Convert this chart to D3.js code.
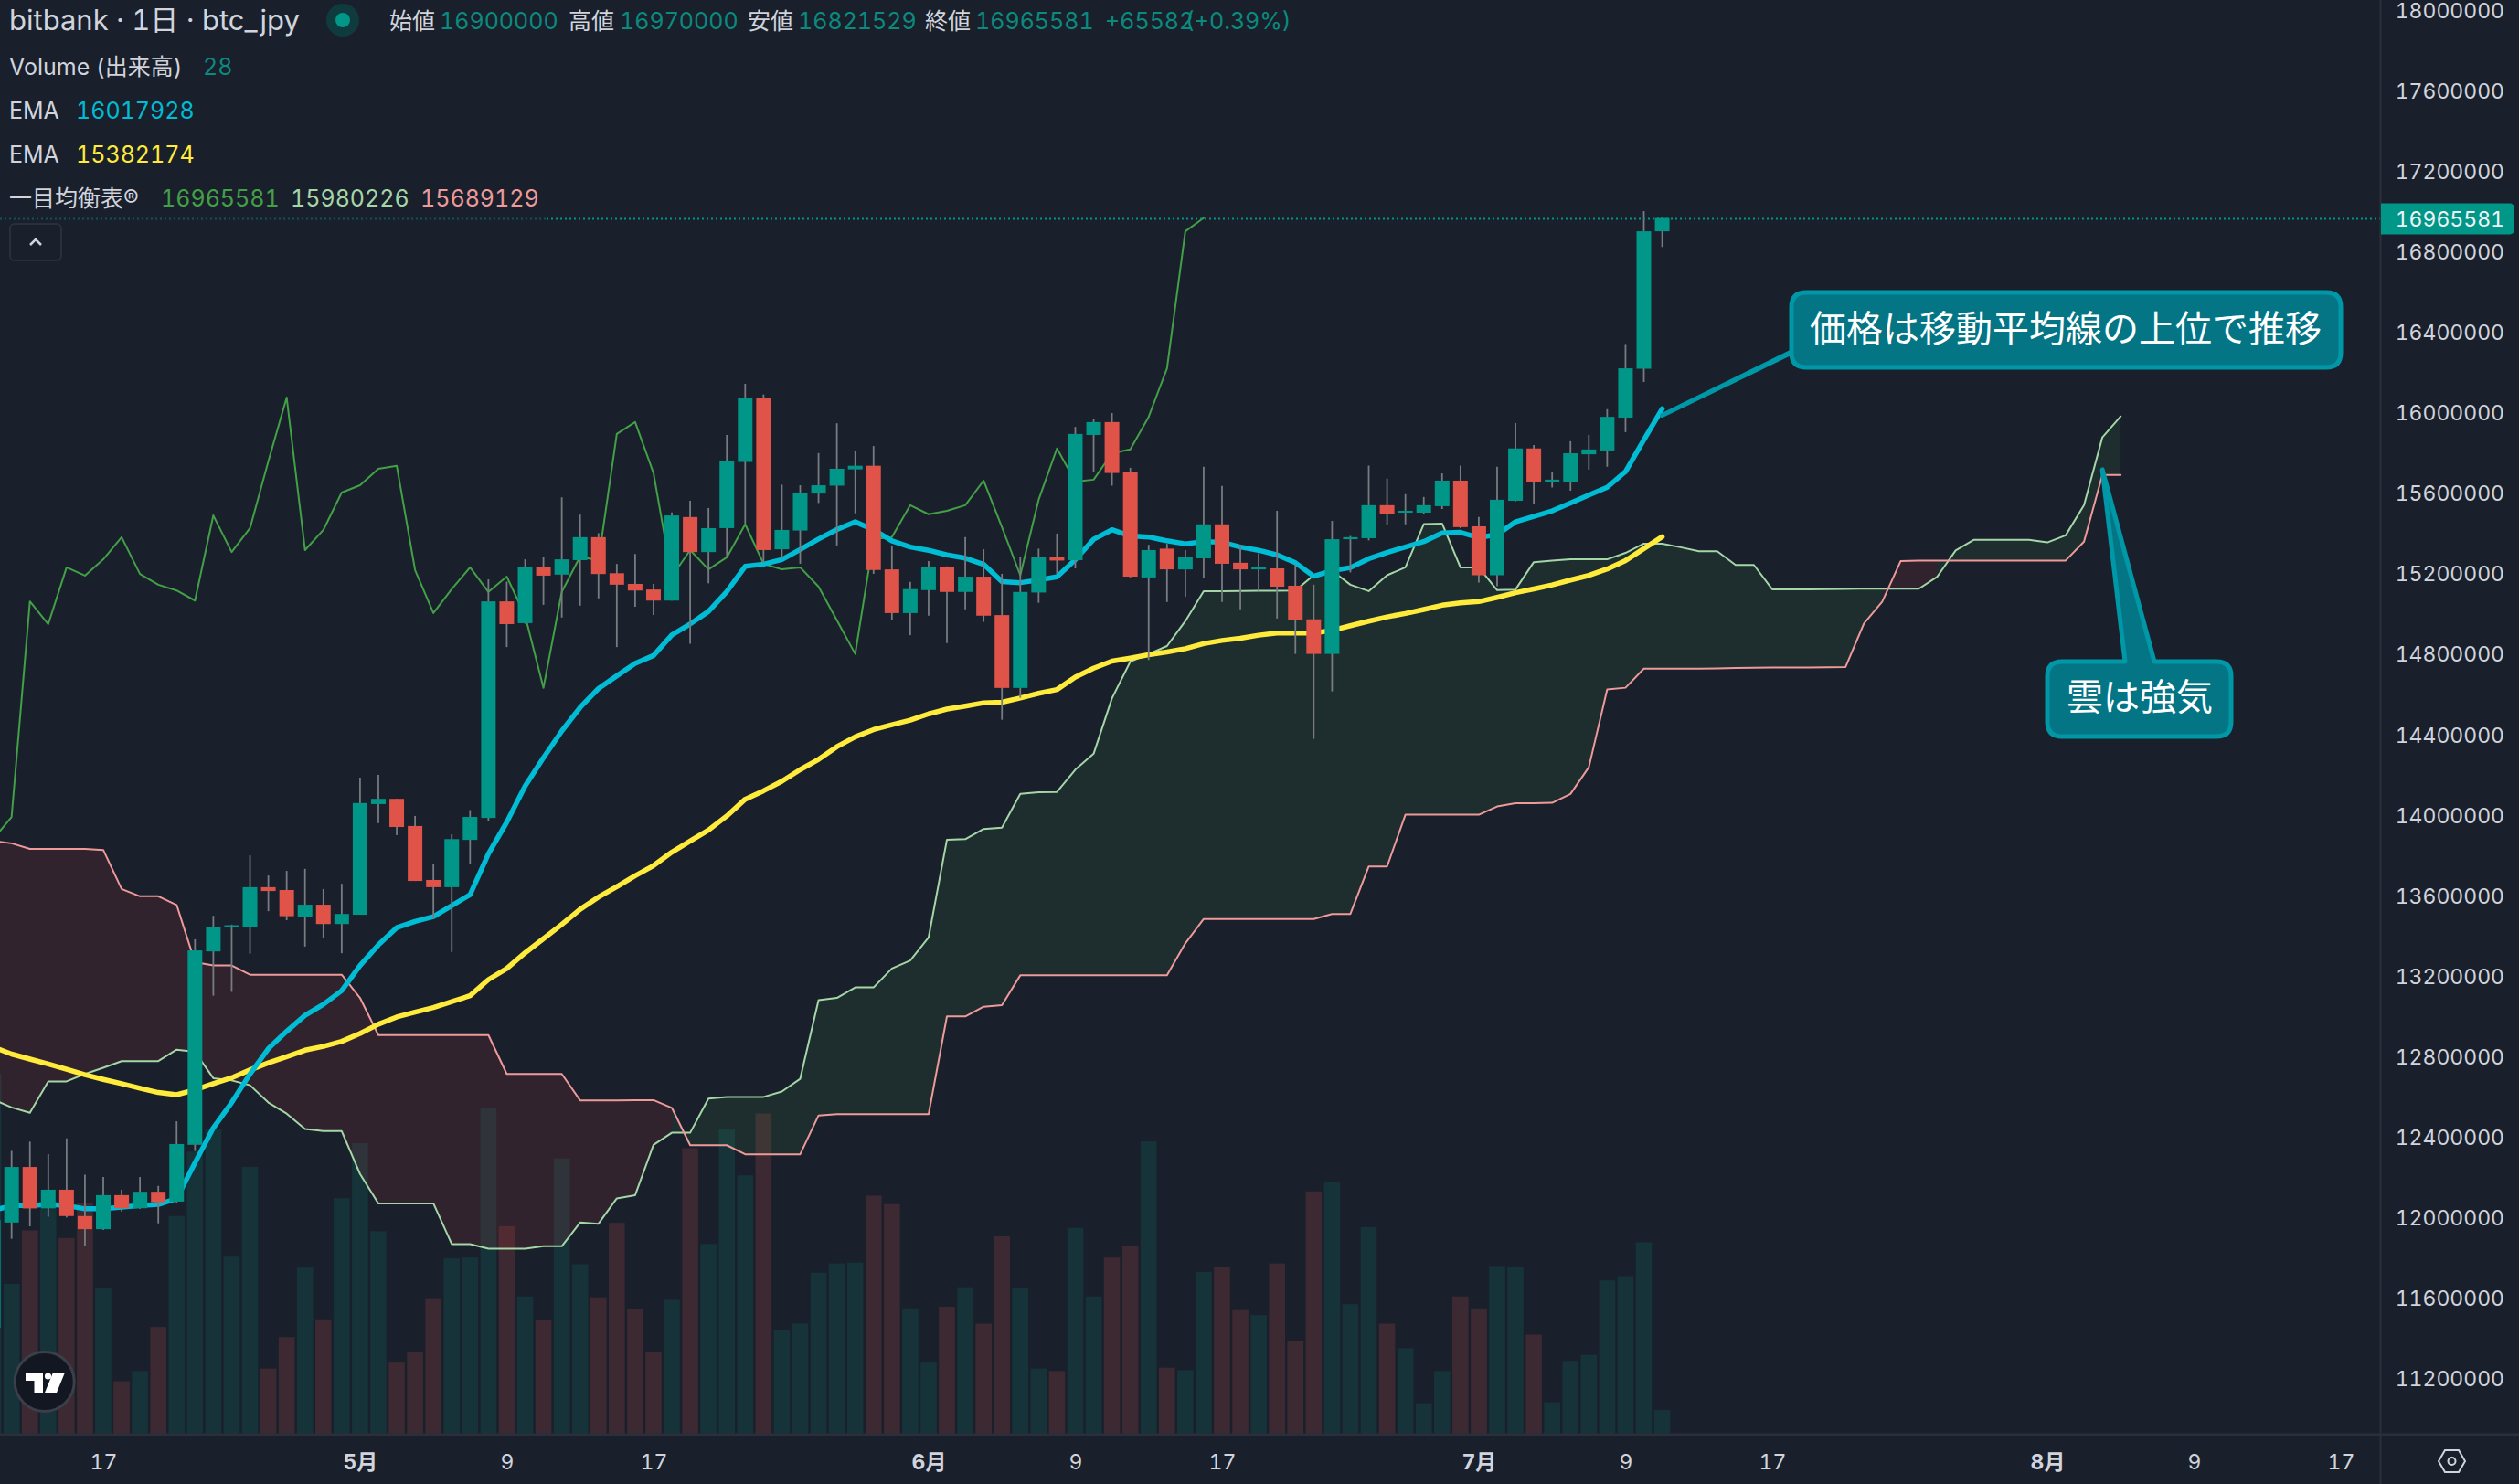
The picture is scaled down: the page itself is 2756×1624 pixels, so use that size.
<!DOCTYPE html>
<html>
<head>
<meta charset="utf-8">
<script src="https://cdnjs.cloudflare.com/ajax/libs/d3/7.8.5/d3.min.js"></script>
<style>
  html, body { margin: 0; padding: 0; background: #19202c; overflow: hidden; }
  svg { display: block; }
  text { font-family: Inter, "Noto Sans CJK JP", sans-serif; font-variant-numeric: tabular-nums; }
</style>
</head>
<body>
<svg id="chart" width="2756" height="1624"></svg>
<script>
// all prices in thousand yen, days counted from 17 Apr
var firstDay = -6;

var opens = [11452,11975,12251,12045,12138,12007,11942,12111,12046,12128,12079,12361,13322,13441,13441,13641,13627,13491,13554,13458,
  13504,14054,14080,13945,13677,13641,13876,13985,15061,14953,15230,15194,15266,15380,15201,15148,15120,15065,15480,15306,
  15425,15754,16074,15320,15413,15597,15636,15717,15735,15220,15003,15117,15230,15108,15184,14993,14631,15105,15284,15266,
  15888,15952,15702,15180,15323,15220,15275,15444,15253,15220,15225,15139,14972,14800,15370,15375,15539,15502,15502,15534,
  15661,15434,15191,15561,15821,15656,15656,15792,15811,15974,16217,16900];
var highs = [12150,12331,12377,12315,12393,12213,12201,12138,12201,12157,12478,13382,13499,13455,13799,13699,13722,13732,13632,13658,
  14185,14199,14080,13995,13758,13904,14024,15170,15159,15270,15284,15578,15492,15400,15247,15297,15148,15503,15561,15525,
  15888,16142,16089,15641,15638,15798,15946,15811,15833,15339,15158,15261,15235,15380,15320,15198,15284,15323,15398,15928,
  15966,15997,15725,15342,15347,15316,15730,15635,15342,15300,15511,15245,15144,15461,15386,15736,15671,15594,15580,15697,
  15736,15480,15730,15947,15838,15702,15857,15888,16016,16340,17000,16970];
var lows = [11300,11894,11956,12004,12000,11857,11938,12030,12043,11971,12074,12330,13102,13121,13311,13522,13477,13346,13391,13313,
  13504,13959,13899,13672,13486,13319,13758,13971,14834,14950,15044,14981,15040,15076,14834,15034,14994,15065,14850,15151,
  15280,15447,15253,15272,15248,15550,15339,15499,15198,14967,14893,14990,14854,15022,14959,14473,14582,15054,15198,15225,
  15702,15636,15180,14770,15058,15084,15180,15058,15022,15112,14976,14800,14378,14614,15205,15364,15439,15444,15495,15520,
  15425,15155,15137,15558,15545,15627,15611,15716,15730,15902,16151,16822];
var closes = [11988,12251,12045,12138,12007,11942,12111,12046,12128,12076,12365,13327,13441,13452,13641,13622,13497,13554,13458,13508,
  14059,14080,13940,13672,13641,13880,13990,15061,14948,15230,15189,15270,15380,15197,15144,15115,15065,15488,15306,15425,
  15757,16074,15316,15416,15602,15638,15720,15735,15217,15003,15122,15230,15108,15184,14990,14631,15108,15284,15264,15893,
  15952,15699,15184,15316,15220,15280,15444,15248,15220,15230,15134,14967,14800,15370,15380,15539,15494,15511,15539,15661,
  15430,15191,15566,15821,15656,15666,15797,15816,15978,16219,16900,16966];

var volumes = [425,177,240,265,231,272,172,62,74,126,257,333,359,209,315,77,114,196,135,278,
  343,239,84,97,160,207,208,385,245,162,134,325,200,161,249,147,96,158,337,224,
  359,305,378,122,130,190,201,202,281,271,148,84,150,173,130,233,172,77,74,243,
  162,208,222,345,78,75,191,197,146,140,201,110,286,297,153,244,130,101,36,74,
  162,148,198,197,117,37,86,93,181,186,226,28];

var emaFast = [12035,12059,12059,12065,12059,12043,12043,12051,12059,12065,12094,12272,12445,12571,12713,12839,12925,13004,13059,13127,
  13252,13354,13440,13471,13495,13549,13604,13807,13964,14143,14284,14417,14534,14628,14691,14753,14792,14894,14949,15011,
  15110,15235,15246,15269,15319,15371,15418,15456,15417,15362,15331,15315,15292,15276,15245,15159,15154,15167,15183,15268,
  15370,15417,15386,15381,15362,15347,15358,15355,15331,15315,15292,15253,15186,15214,15229,15273,15304,15331,15358,15401,
  15404,15378,15393,15456,15483,15511,15550,15589,15628,15706,15863,16018];
var emaSlow = [12847,12812,12787,12763,12736,12709,12686,12665,12642,12621,12610,12634,12665,12694,12733,12768,12799,12831,12850,12875,
  12914,12960,12996,13020,13043,13072,13102,13182,13237,13315,13385,13456,13531,13592,13643,13698,13748,13815,13870,13925,
  13995,14078,14120,14167,14225,14276,14339,14388,14424,14448,14471,14502,14526,14541,14557,14560,14581,14604,14623,14685,
  14729,14764,14779,14796,14810,14826,14851,14867,14878,14893,14904,14904,14904,14917,14940,14963,14984,15001,15021,15042,
  15054,15060,15081,15104,15123,15143,15167,15190,15222,15264,15323,15382];

// lagging span, starts at firstDay
var chikou = [13880,13990,15061,14948,15230,15189,15270,15380,15197,15144,15115,15065,15488,15306,15425,15757,16074,15316,15416,15602,
  15638,15720,15735,15217,15003,15122,15230,15108,15184,14990,14631,15108,15284,15264,15893,15952,15699,15184,15316,15220,
  15280,15444,15248,15220,15230,15134,14967,14800,15370,15380,15539,15494,15511,15539,15661,15430,15191,15566,15821,15656,
  15666,15797,15816,15978,16219,16900,16966];

// leading spans, start at firstDay and run 25 days past the last candle
var senkouA = [12587,12547,12520,12676,12676,12713,12744,12777,12777,12777,12834,12823,12692,12681,12657,12571,12516,12440,12429,12429,
  12216,12070,12070,12070,12070,11868,11868,11845,11845,11845,11857,11857,11975,11969,12095,12111,12361,12421,12421,12591,
  12599,12599,12599,12626,12689,13080,13091,13143,13143,13237,13277,13391,13877,13880,13930,13937,14105,14113,14114,14225,
  14304,14580,14762,14800,14839,14963,15112,15112,15113,15114,15114,15115,15191,15214,15144,15112,15191,15230,15445,15448,
  15230,15230,15117,15120,15256,15264,15270,15270,15270,15302,15348,15348,15330,15310,15310,15242,15242,15121,15121,15121,
  15122,15123,15124,15124,15124,15124,15184,15314,15367,15367,15367,15367,15354,15389,15539,15876,15980];
var senkouB = [13870,13859,13831,13831,13831,13831,13826,13632,13596,13596,13553,13268,13252,13252,13206,13206,13206,13206,13206,13206,
  13091,12906,12906,12906,12906,12906,12906,12906,12713,12713,12713,12713,12582,12582,12582,12583,12583,12545,12359,12359,
  12359,12314,12314,12314,12314,12507,12513,12513,12513,12513,12513,12513,12999,12999,13047,13055,13203,13203,13203,13203,
  13203,13203,13203,13203,13203,13362,13483,13483,13483,13483,13483,13483,13483,13508,13508,13744,13744,14001,14001,14001,
  14001,14001,14042,14058,14058,14060,14104,14237,14623,14632,14727,14727,14727,14727,14728,14730,14731,14732,14732,14733,
  14734,14735,14951,15060,15261,15264,15264,15264,15264,15264,15264,15264,15264,15264,15358,15689,15689];

var priceTicks = d3.range(11200, 18001, 400);
var lastPrice = 16965.581;
var timeTickDays = [0, 14, 22, 30, 45, 53, 61, 75, 83, 91, 106, 114, 122];
var timeTickLabels = ['17', '5月', '9', '17', '6月', '9', '17', '7月', '9', '17', '8月', '9', '17'];

var legendOhlc = [['始値', '16900000'], ['高値', '16970000'], ['安値', '16821529'], ['終値', '16965581']];
var callouts = [
  { text: '価格は移動平均線の上位で推移', day: 85, price: 15986 },
  { text: '雲は強気', day: 109, price: 15716 }
];

var plotRight = 2604.5, plotBottom = 1570;
var cGrid = '#2a2f3b', cText = '#d1d4dc', cTeal = '#009688', cRed = '#df5349';

var svg = d3.select('#chart');
var x = d3.scaleLinear().domain([0, 122]).range([113, 2561]);
var y = d3.scaleLinear().domain([10921, 18049]).range([plotBottom, 0]);
var yVol = d3.scaleLinear().domain([0, 385]).range([plotBottom - 1, 1212]);

var days = d3.range(firstDay, firstDay + opens.length);
var cloudDays = d3.range(firstDay, firstDay + senkouA.length);

var defs = svg.append('defs');
defs.append('clipPath').attr('id', 'plot').append('rect')
  .attr('width', plotRight).attr('height', plotBottom);
var plot = svg.append('g').attr('clip-path', 'url(#plot)');

// volume
plot.append('g').selectAll('rect').data(days).join('rect')
  .attr('x', function(d) { return x(d) - 8.8; })
  .attr('width', 17.6)
  .attr('y', function(d, i) { return yVol(volumes[i]); })
  .attr('height', function(d, i) { return yVol(0) - yVol(volumes[i]); })
  .attr('fill', function(d, i) { return closes[i] >= opens[i] ? '#16333a' : '#3d2931'; });

// cloud, split in runs of the same colour
var cloud = cloudDays.map(function(d, i) { return { d: d, a: senkouA[i], b: senkouB[i] }; });
var cloudArea = d3.area()
  .x(function(p) { return x(p.d); })
  .y0(function(p) { return y(p.a); })
  .y1(function(p) { return y(p.b); });
var runs = [], run = null;
for (var i = 1; i < cloud.length; i++) {
  var up = cloud[i].a >= cloud[i].b;
  if (!run || run.up !== up) {
    run = { up: up, pts: [cloud[i - 1]] };
    runs.push(run);
  }
  run.pts.push(cloud[i]);
}
plot.append('g').selectAll('path').data(runs).join('path')
  .attr('d', function(r) { return cloudArea(r.pts); })
  .attr('fill', function(r) { return r.up ? '#4caf50' : '#f44336'; })
  .attr('fill-opacity', function(r) { return r.up ? 0.1 : 0.11; });

function drawLine(startDay, values, color, width) {
  var line = d3.line()
    .x(function(v, i) { return x(startDay + i); })
    .y(function(v) { return y(v); });
  plot.append('path').datum(values)
    .attr('d', line)
    .attr('fill', 'none')
    .attr('stroke', color)
    .attr('stroke-width', width)
    .attr('stroke-linecap', 'round')
    .attr('stroke-linejoin', 'round');
}
drawLine(firstDay, senkouA, '#a5d6a7', 2);
drawLine(firstDay, senkouB, '#ef9a9a', 2);
drawLine(firstDay, chikou, '#43a047', 2);
drawLine(firstDay, emaSlow, '#ffeb3b', 5.5);
drawLine(firstDay, emaFast, '#00bcd4', 5.5);

// candles
var candles = plot.append('g').selectAll('g').data(days).join('g');
candles.append('line')
  .attr('x1', function(d) { return x(d); })
  .attr('x2', function(d) { return x(d); })
  .attr('y1', function(d, i) { return y(highs[i]); })
  .attr('y2', function(d, i) { return y(lows[i]); })
  .attr('stroke', '#787b80')
  .attr('stroke-width', 1.8);
candles.append('rect')
  .attr('x', function(d) { return x(d) - 8; })
  .attr('width', 16)
  .attr('y', function(d, i) { return y(Math.max(opens[i], closes[i])); })
  .attr('height', function(d, i) { return Math.max(2, Math.abs(y(opens[i]) - y(closes[i]))); })
  .attr('fill', function(d, i) { return closes[i] >= opens[i] ? cTeal : cRed; });

// last price line, dim under the legend
var yLast = Math.round(y(lastPrice)) + 0.5;
svg.append('line').attr('x1', 0).attr('x2', 598).attr('y1', yLast).attr('y2', yLast)
  .attr('stroke', cTeal).attr('stroke-opacity', 0.45).attr('stroke-width', 2).attr('stroke-dasharray', '2 3');
svg.append('line').attr('x1', 598).attr('x2', plotRight).attr('y1', yLast).attr('y2', yLast)
  .attr('stroke', cTeal).attr('stroke-width', 2).attr('stroke-dasharray', '2 3');

// axes
svg.append('line').attr('x1', plotRight).attr('x2', plotRight).attr('y1', 0).attr('y2', 1624)
  .attr('stroke', cGrid).attr('stroke-width', 2);
svg.append('line').attr('x1', 0).attr('x2', 2756).attr('y1', plotBottom).attr('y2', plotBottom)
  .attr('stroke', cGrid).attr('stroke-width', 3);

var yAxis = d3.axisRight(y).tickValues(priceTicks).tickSize(0).tickPadding(0)
  .tickFormat(function(d) { return d * 1000; });
var yAxisG = svg.append('g').attr('transform', 'translate(2740,0)').call(yAxis);
yAxisG.select('.domain').remove();
yAxisG.selectAll('text')
  .attr('text-anchor', 'end').attr('x', 0).attr('dy', '0.36em')
  .attr('fill', cText).attr('font-size', 23);

var xAxis = d3.axisBottom(x).tickValues(timeTickDays).tickSize(0).tickPadding(0)
  .tickFormat(function(d, i) { return timeTickLabels[i]; });
var xAxisG = svg.append('g').attr('transform', 'translate(0,1600)').call(xAxis);
xAxisG.select('.domain').remove();
xAxisG.selectAll('text')
  .attr('y', 0).attr('dy', '0.36em')
  .attr('fill', cText).attr('font-size', 23)
  .attr('font-weight', function(d, i) { return timeTickLabels[i].indexOf('月') > 0 ? 700 : 400; });

// last price tag
svg.append('path')
  .attr('d', 'M2605,' + (yLast - 17) + 'H2746a5,5 0 0 1 5,5V' + (yLast + 12) + 'a5,5 0 0 1 -5,5H2605Z')
  .attr('fill', cTeal);
svg.append('text').attr('x', 2740).attr('y', yLast).attr('dy', '0.36em').attr('text-anchor', 'end')
  .attr('fill', '#f0f3f5').attr('font-size', 23).text(Math.round(lastPrice * 1000));

// callouts
function bubble(x0, y0, x1, y1, r, tail) {
  var p = d3.path();
  p.moveTo(x0 + r, y0);
  tail.top.forEach(function(t) { p.lineTo(t[0], t[1]); });
  p.lineTo(x1 - r, y0);
  p.quadraticCurveTo(x1, y0, x1, y0 + r);
  p.lineTo(x1, y1 - r);
  p.quadraticCurveTo(x1, y1, x1 - r, y1);
  tail.bottom.forEach(function(t) { p.lineTo(t[0], t[1]); });
  p.lineTo(x0 + r, y1);
  p.quadraticCurveTo(x0, y1, x0, y1 - r);
  tail.left.forEach(function(t) { p.lineTo(t[0], t[1]); });
  p.lineTo(x0, y0 + r);
  p.quadraticCurveTo(x0, y0, x0 + r, y0);
  p.closePath();
  return p.toString();
}
var tip0 = [x(callouts[0].day), y(callouts[0].price)];
var tip1 = [x(callouts[1].day), y(callouts[1].price)];
var bubbles = [
  { box: [1960, 320, 2561, 402], cx: 2260, cy: 360, tail: { top: [], bottom: [[1977, 402]], left: [tip0, [1960, 385]] }, r: 16 },
  { box: [2240, 724, 2441, 806], cx: 2341, cy: 763, tail: { top: [[2325, 724], tip1, [2357, 724]], bottom: [], left: [] }, r: 16 }
];
bubbles.forEach(function(b, i) {
  svg.append('path')
    .attr('d', bubble(b.box[0], b.box[1], b.box[2], b.box[3], b.r, b.tail))
    .attr('fill', '#047585')
    .attr('stroke', '#0097a7')
    .attr('stroke-width', 5)
    .attr('stroke-linejoin', 'round');
  svg.append('text').attr('x', b.cx).attr('y', b.cy).attr('dy', '0.36em').attr('text-anchor', 'middle')
    .attr('fill', '#ffffff').attr('font-size', 40).text(callouts[i].text);
});

// legend
function label(px, py, str, color, size) {
  return svg.append('text').attr('x', px).attr('y', py).attr('dy', '0.36em')
    .attr('fill', color).attr('font-size', size || 25).text(str);
}
label(10, 22, 'bitbank · 1日 · btc_jpy', cText, 31);
svg.append('circle').attr('cx', 375).attr('cy', 22).attr('r', 18).attr('fill', '#0f3a3e');
svg.append('circle').attr('cx', 375).attr('cy', 22).attr('r', 8).attr('fill', cTeal);

var ohlcX = [[426, 481], [622, 678], [818, 873], [1012, 1067]];
legendOhlc.forEach(function(o, i) {
  label(ohlcX[i][0], 23, o[0], cText);
  label(ohlcX[i][1], 23, o[1], '#0b8a7e');
});
label(1209, 23, '+65582', '#0b8a7e');
label(1297, 23, '(+0.39%)', '#0b8a7e');

label(10, 73, 'Volume (出来高)', cText);
label(222, 73, '28', '#0b8a7e');
label(10, 121, 'EMA', cText);
label(83, 121, '16017928', '#00bcd4');
label(10, 169, 'EMA', cText);
label(83, 169, '15382174', '#ffeb3b');
label(10, 217, '一目均衡表®', cText);
label(176, 217, '16965581', '#43a047');
label(318, 217, '15980226', '#a5d6a7');
label(460, 217, '15689129', '#ef9a9a');

// collapse button
svg.append('rect').attr('x', 11).attr('y', 245).attr('width', 56).attr('height', 40).attr('rx', 5)
  .attr('fill', 'none').attr('stroke', cGrid).attr('stroke-width', 2);
svg.append('path').attr('d', 'M33,268L39,262L45,268').attr('fill', 'none')
  .attr('stroke', cText).attr('stroke-width', 2.5);

// logo
svg.append('circle').attr('cx', 48.7).attr('cy', 1512).attr('r', 32.5)
  .attr('fill', '#131722').attr('stroke', '#3b3f49').attr('stroke-width', 3);
svg.append('path').attr('d', 'M28,1502H47V1524H37.5V1511H28Z').attr('fill', '#fff');
svg.append('circle').attr('cx', 52.5).attr('cy', 1506).attr('r', 3.6).attr('fill', '#fff');
svg.append('path').attr('d', 'M58,1502H71L62,1524H49Z').attr('fill', '#fff');

// settings icon
svg.append('path').attr('d', 'M2668,1599L2675,1587H2690L2697,1599L2690,1611H2675Z')
  .attr('fill', 'none').attr('stroke', cText).attr('stroke-width', 2);
svg.append('circle').attr('cx', 2682.5).attr('cy', 1599).attr('r', 4)
  .attr('fill', 'none').attr('stroke', cText).attr('stroke-width', 2);
</script>
</body>
</html>
